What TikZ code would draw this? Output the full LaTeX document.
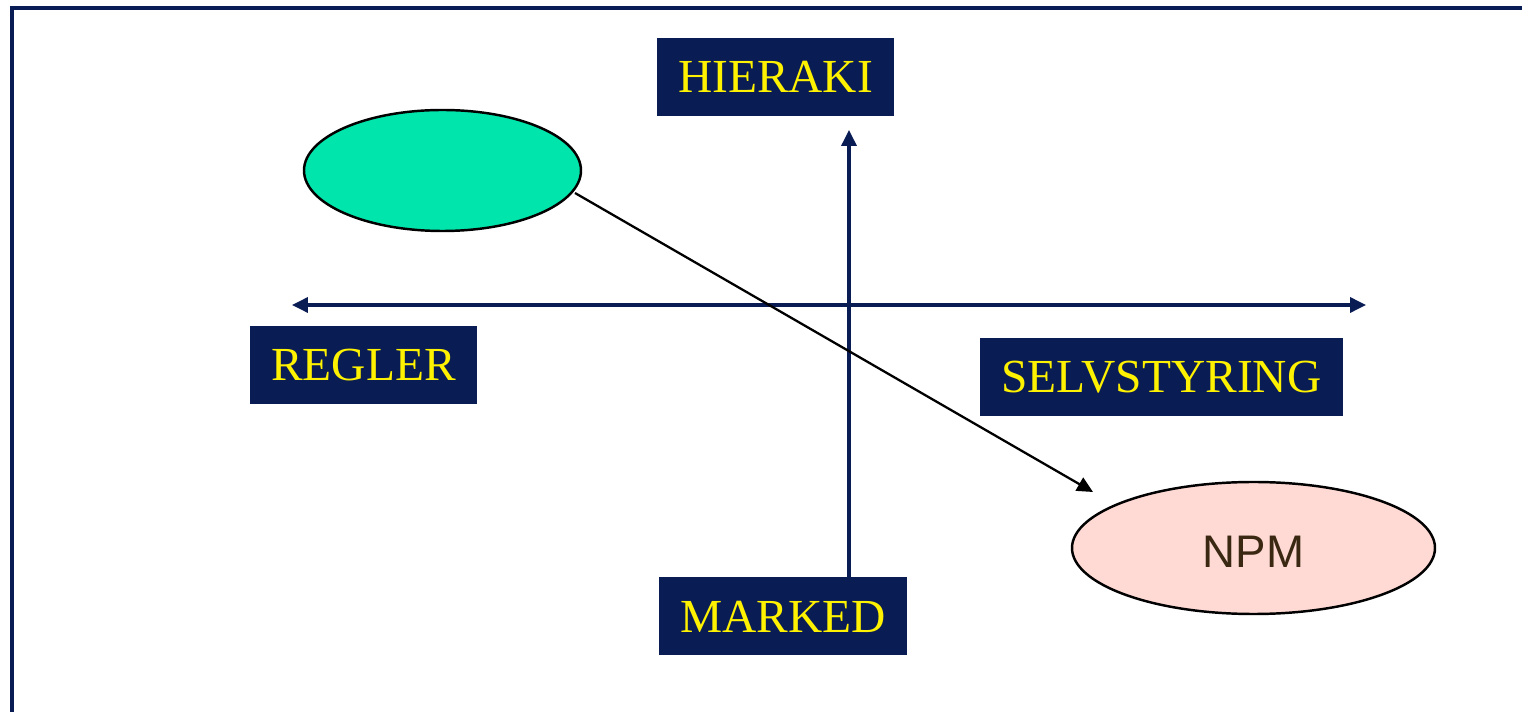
\documentclass[tikz,border=0pt]{standalone}
\usepackage{fontspec}
\setmainfont{Liberation Serif}
\newfontfamily\npmfont{Liberation Sans}
\usetikzlibrary{arrows.meta}
\definecolor{navy}{RGB}{10,28,84}
\definecolor{mint}{RGB}{0,229,172}
\definecolor{blush}{RGB}{255,218,213}
\definecolor{npmtext}{RGB}{58,40,18}

\begin{document}
\begin{tikzpicture}
  [x=0.02cm,y=-0.02cm,
   label/.style={fill=navy,text=yellow,minimum height=78*0.02cm,inner sep=0pt,
     text depth=-4pt,font=\fontsize{27}{29}\selectfont},
   tip/.style={-{Triangle[length=9pt,width=8.5pt]}},
   axis/.style={draw=navy,line width=1.8pt}]

  \useasboundingbox (0,0) rectangle (1522,712);
  \draw[navy,line width=2.4pt] (12,712) -- (12,8) -- (1522,8);

  \node[label,minimum width=237*0.02cm] (hier) at (775.5,77) {HIERAKI};
  \node[label,minimum width=227*0.02cm] (regl) at (363.5,365) {REGLER};
  \node[label,minimum width=363*0.02cm] (selv) at (1161.5,377) {SELVSTYRING};
  \node[label,minimum width=248*0.02cm] (mark) at (783,616.5) {MARKED};

  \draw[fill=mint,line width=1.4pt] (442.5,170.5) ellipse [x radius=138.5,y radius=60.5];
  \coordinate (green) at (442.5,170.5);
  \draw[fill=blush,line width=1.4pt] (1253.5,548) ellipse [x radius=181.5,y radius=66];
  \node[text=npmtext,font=\npmfont\fontsize{26}{28}\selectfont] (npm) at (1253.5,552) {NPM};

  \coordinate (west) at (292,305);
  \coordinate (east) at (1366,305);
  \coordinate (north) at (849,130);
  \coordinate (south) at (849,577);
  \coordinate (from) at (575,193);
  \coordinate (to) at (1093,492);

  \draw[axis,{Triangle[length=9pt,width=8.5pt]}-{Triangle[length=9pt,width=8.5pt]}] (west) -- (east);
  \draw[axis,tip] (south) -- (north);
  \draw[line width=1.3pt,tip] (from) -- (to);
\end{tikzpicture}
\end{document}
